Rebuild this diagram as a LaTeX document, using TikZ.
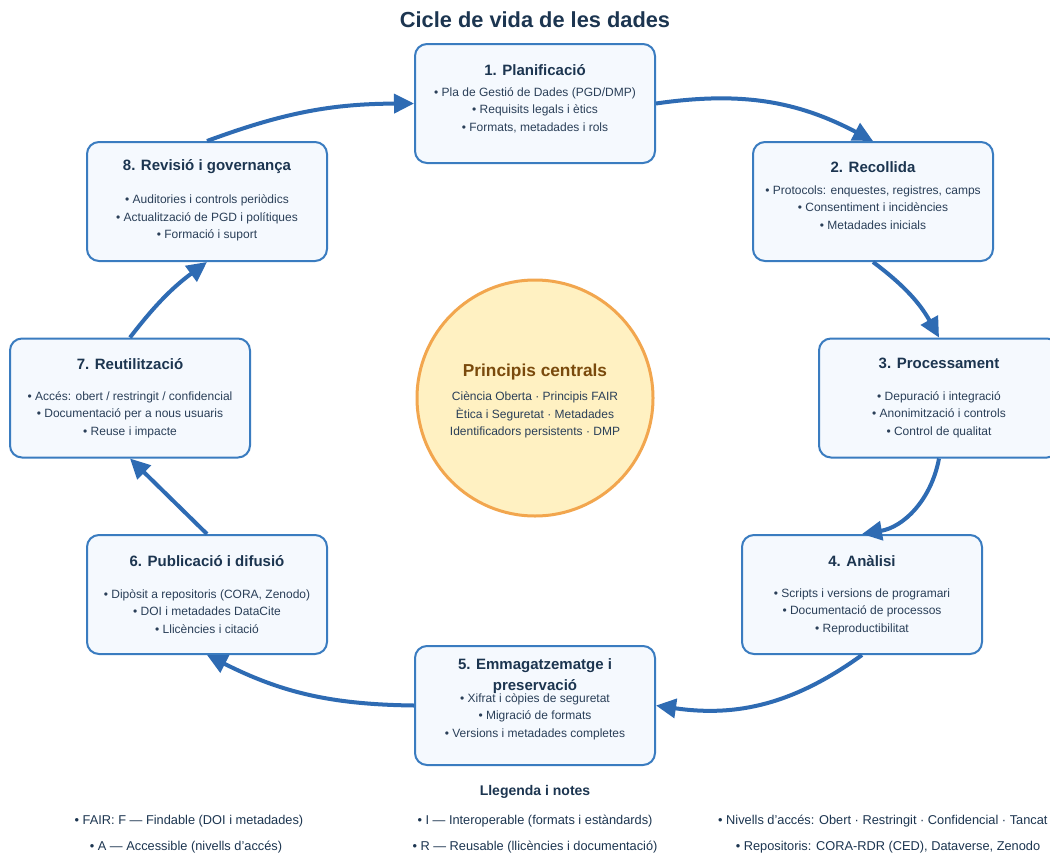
\documentclass[tikz,border=0pt]{standalone}
\usepackage{fontspec}
\setmainfont{Liberation Sans}
\usetikzlibrary{arrows.meta}
\definecolor{boxborder}{HTML}{3A7CC0}
\definecolor{boxfill}{HTML}{F5F9FE}
\definecolor{arrowblue}{HTML}{2E6BB3}
\definecolor{navy}{HTML}{1C3550}
\definecolor{bodytext}{HTML}{2A3F58}
\definecolor{circfill}{HTML}{FFF1C2}
\definecolor{circborder}{HTML}{F2A64E}
\definecolor{brown}{HTML}{7A4A0C}
\tikzset{
  stagebox/.style={draw=boxborder, line width=2pt, fill=boxfill, rounded corners=12pt,
    minimum width=240pt, minimum height=119pt, inner sep=0pt},
  btitle/.style={text=navy, font=\fontsize{15}{18}\selectfont\bfseries, inner sep=0pt, align=center},
  bul/.style={text=bodytext, font=\fontsize{12}{17.5}\selectfont, inner sep=0pt, align=center},
  arr/.style={draw=arrowblue, line width=4pt, -{Triangle[length=20pt,width=19pt]}},
  legend/.style={text=navy, font=\fontsize{12.8}{15}\selectfont, inner sep=0pt},
}
\begin{document}
\begin{tikzpicture}[x=1pt,y=-1pt]
\useasboundingbox (0,0) rectangle (1050,854);
\clip (0,0) rectangle (1050,854);
\fill[white] (0,0) rectangle (1050,854);

\node[text=navy, font=\fontsize{21.8}{26}\selectfont\bfseries, inner sep=0pt] (title) at (535,20) {Cicle de vida de les dades};

% centre circle
\node[circle, draw=circborder, line width=3pt, fill=circfill, minimum size=236pt, inner sep=0pt] (core) at (535,398) {};
\node[text=brown, font=\fontsize{17.3}{20}\selectfont\bfseries, inner sep=0pt] (coret) at (535,372) {Principis centrals};
\node[bul, text=bodytext] (corel) at (535,415) {Ciència Oberta · Principis FAIR\\Ètica i Seguretat · Metadades\\Identificadors persistents · DMP};

% boxes
\node[stagebox] (b1) at (535,103.5) {};
\node[stagebox] (b2) at (873,201.5) {};
\node[stagebox] (b3) at (939,398) {};
\node[stagebox] (b4) at (862,594.5) {};
\node[stagebox] (b5) at (535,705.5) {};
\node[stagebox] (b6) at (207,594.5) {};
\node[stagebox] (b7) at (130,398) {};
\node[stagebox] (b8) at (207,201.5) {};

% box texts
\node[btitle] (t1) at (535,70) {1. Planificació};
\node[bul] (l1) at (535,110) {• Pla de Gestió de Dades (PGD/DMP)\\• Requisits legals i ètics\\• Formats, metadades i rols};

\node[btitle] (t2) at (873,167) {2. Recollida};
\node[bul] (l2) at (873,207.5) {• Protocols: enquestes, registres, camps\\• Consentiment i incidències\\• Metadades inicials};

\node[btitle] (t3) at (939,363) {3. Processament};
\node[bul] (l3) at (939,414.5) {• Depuració i integració\\• Anonimització i controls\\• Control de qualitat};

\node[btitle] (t4) at (862,561) {4. Anàlisi};
\node[bul] (l4) at (862,611.5) {• Scripts i versions de programari\\• Documentació de processos\\• Reproductibilitat};

\node[btitle] (t5a) at (535,666) {5. Emmagatzematge i};
\node[btitle] (t5b) at (535,687) {preservació};
\node[bul] (l5) at (535,716.5) {• Xifrat i còpies de seguretat\\• Migració de formats\\• Versions i metadades completes};

\node[btitle] (t6) at (207,561) {6. Publicació i difusió};
\node[bul] (l6) at (207,611.5) {• Dipòsit a repositoris (CORA, Zenodo)\\• DOI i metadades DataCite\\• Llicències i citació};

\node[btitle] (t7) at (130,364) {7. Reutilització};
\node[bul] (l7) at (130,414.5) {• Accés: obert / restringit / confidencial\\• Documentació per a nous usuaris\\• Reuse i impacte};

\node[btitle] (t8) at (207,167) {8. Revisió i governança};
\node[bul] (l8) at (207,218) {• Auditories i controls periòdics\\• Actualització de PGD i polítiques\\• Formació i suport};

% connectors
\draw[arr] (b1.east) to[bend left=18] (b2.north);
\draw[arr] (b2.south) to[bend left=12] (b3.north);
\draw[arr] (b3.south) to[bend left=35] (b4.north);
\draw[arr] (b4.south) to[bend left=22] (b5.east);
\draw[arr] (b5.west) to[bend left=13] (b6.south);
\draw[arr] (b6.north) -- (b7.south);
\draw[arr] (b7.north) to[bend left=8] (b8.south);
\draw[arr] (b8.north) to[bend left=10] (b1.west);

% legend
\node[text=navy, font=\fontsize{14}{16}\selectfont\bfseries, inner sep=0pt] (lgt) at (535,792) {Llegenda i notes};
\node[legend] (g1) at (189,821) {• FAIR: F — Findable (DOI i metadades)};
\node[legend] (g2) at (535,821) {• I — Interoperable (formats i estàndards)};
\node[legend, anchor=west] (g3) at (718,821) {• Nivells d'accés: Obert · Restringit · Confidencial · Tancat};
\node[legend] (g4) at (186,847) {• A — Accessible (nivells d'accés)};
\node[legend] (g5) at (535,847) {• R — Reusable (llicències i documentació)};
\node[legend] (g6) at (888,847) {• Repositoris: CORA-RDR (CED), Dataverse, Zenodo};
\end{tikzpicture}
\end{document}
